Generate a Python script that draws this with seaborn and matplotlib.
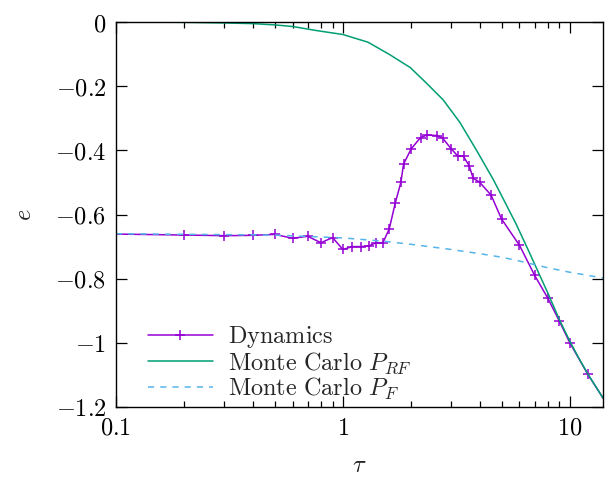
import numpy as np
import pandas as pd
import matplotlib
matplotlib.use("Agg")
import matplotlib.pyplot as plt
import matplotlib.ticker as mticker
import seaborn as sns

# ---- data ----
dyn_tau = [0.1, 0.2, 0.3, 0.4, 0.5, 0.6, 0.7, 0.8, 0.9, 1.0, 1.1, 1.2, 1.3, 1.4, 1.5,
           1.6, 1.7, 1.8, 1.85, 2.0, 2.2, 2.35, 2.6, 2.75, 3.0, 3.2, 3.4, 3.6, 3.75,
           4.0, 4.5, 5.0, 6.0, 7.0, 8.0, 9.0, 10.0, 12.0, 15.0]
dyn_e = [-0.661, -0.664, -0.666, -0.665, -0.662, -0.674, -0.668, -0.688, -0.672, -0.709,
         -0.700, -0.700, -0.698, -0.688, -0.688, -0.645, -0.565, -0.500, -0.443, -0.395,
         -0.360, -0.352, -0.354, -0.362, -0.395, -0.417, -0.419, -0.448, -0.487, -0.499,
         -0.540, -0.614, -0.696, -0.790, -0.861, -0.933, -1.000, -1.098, -1.205]

rf_tau = [0.1, 0.2, 0.3, 0.4, 0.5, 0.6, 0.77, 1.0, 1.29, 1.61, 1.98, 2.33, 2.76, 3.27,
          3.88, 4.59, 4.91, 5.8, 6.5, 7.0, 8.0, 9.0, 10.0, 11.0, 12.0, 14.0]
rf_e = [0.0, -0.001, -0.003, -0.005, -0.009, -0.014, -0.027, -0.039, -0.063, -0.102,
        -0.142, -0.190, -0.242, -0.312, -0.400, -0.490, -0.530, -0.630, -0.705, -0.755,
        -0.845, -0.928, -0.995, -1.050, -1.097, -1.172]

f_tau = [0.1, 0.5, 1.0, 1.5, 2.0, 3.0, 4.0, 5.0, 6.0, 8.0, 10.0, 14.0]
f_e = [-0.660, -0.664, -0.673, -0.683, -0.693, -0.709, -0.722, -0.733, -0.745, -0.766,
       -0.780, -0.798]

y_ticks = [0, -0.2, -0.4, -0.6, -0.8, -1.0, -1.2]
y_labels = ["0", "−0.2", "−0.4", "−0.6", "−0.8", "−1", "−1.2"]
x_ticks = [0.1, 1, 10]
x_labels = ["0.1", "1", "10"]

# ---- style ----
sns.set_theme(style="ticks")
plt.rcParams["mathtext.fontset"] = "cm"
plt.rcParams["font.family"] = ["DejaVu Serif"]
FS = 17.5

fig = plt.figure(figsize=(6.05, 4.78), dpi=100)
ax = fig.add_axes([116 / 605, 1 - 407 / 478, (603 - 116) / 605, (407 - 22) / 478])

df_dyn = pd.DataFrame({"tau": dyn_tau, "e": dyn_e})
df_rf = pd.DataFrame({"tau": rf_tau, "e": rf_e})
df_f = pd.DataFrame({"tau": f_tau, "e": f_e})

sns.lineplot(data=df_dyn, x="tau", y="e", ax=ax, color="#9400d3", lw=1.1,
             marker="+", markersize=7.5, markeredgewidth=1.1, markeredgecolor="#9400d3",
             sort=False, estimator=None, label=r"$\mathrm{Dynamics}$")
sns.lineplot(data=df_rf, x="tau", y="e", ax=ax, color="#009e73", lw=1.1,
             sort=False, estimator=None,
             label=r"$\mathrm{Monte\ Carlo}\ P_{RF}$")
sns.lineplot(data=df_f, x="tau", y="e", ax=ax, color="#56b4e9", lw=1.1,
             linestyle=(0, (4, 4)), sort=False, estimator=None,
             label=r"$\mathrm{Monte\ Carlo}\ P_{F}$")

ax.set_xscale("log")
ax.set_xlim(0.1, 14)
ax.set_ylim(-1.2, 0)

ax.xaxis.set_major_locator(mticker.FixedLocator(x_ticks))
ax.xaxis.set_major_formatter(mticker.FixedFormatter([f"${s}$" for s in x_labels]))
ax.xaxis.set_minor_locator(mticker.LogLocator(base=10, subs=np.arange(2, 10)))
ax.xaxis.set_minor_formatter(mticker.NullFormatter())
ax.yaxis.set_major_locator(mticker.FixedLocator(y_ticks))
ax.yaxis.set_major_formatter(mticker.FixedFormatter(
    [f"${s.replace('−', '-')}$" for s in y_labels]))

ax.tick_params(which="both", direction="in", top=True, right=True, colors="black",
               labelsize=FS, width=0.9)
ax.tick_params(which="major", length=8, pad=7)
ax.tick_params(which="minor", length=4)
for s in ax.spines.values():
    s.set_color("black")
    s.set_linewidth(1.0)

ax.set_xlabel(r"$\tau$", fontsize=FS, labelpad=10)
ax.set_ylabel(r"$e$", fontsize=FS, labelpad=14, rotation=90)

leg = ax.legend(loc="lower left", bbox_to_anchor=(0.035, -0.025), frameon=False,
                fontsize=FS, handlelength=2.7, handletextpad=0.6,
                labelspacing=0.0, borderaxespad=0.2)

fig.savefig("out.png", dpi=100)
